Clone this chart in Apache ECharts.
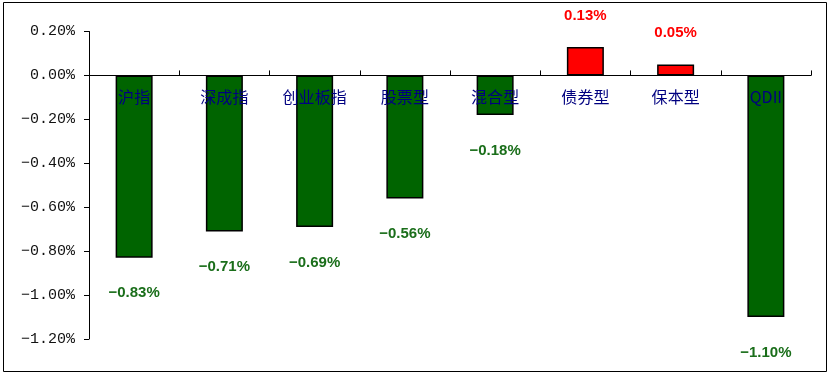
<!DOCTYPE html>
<html>
<head>
<meta charset="utf-8">
<script src="https://cdn.jsdelivr.net/npm/echarts@6/dist/echarts.min.js"></script>
<style>
  html, body { margin: 0; padding: 0; background: #fff; }
  #main { width: 831px; height: 376px; }
</style>
</head>
<body>
<div id="main"></div>
<script>
    // 各类指数 / 基金 周涨跌幅 (%)
    const categories = ['沪指', '深成指', '创业板指', '股票型', '混合型', '债券型', '保本型', 'QDII']
    const values = [-0.83, -0.71, -0.69, -0.56, -0.18, 0.13, 0.05, -1.10]
    const yTicks = [-1.2, -1.0, -0.8, -0.6, -0.4, -0.2, 0, 0.2]

    const upColor = '#ff0000'
    const downColor = '#006400'

    const gridTop = 31.5
    const gridBottom = 37
    const chartHeight = 376

    const chart = echarts.init(document.getElementById('main'))

    const barData = values.map(v => ({
        value: v,
        itemStyle: {color: v >= 0 ? upColor : downColor},
        label: {
            color: v >= 0 ? '#ff0000' : '#1a6e1a',
            distance: v >= 0 ? 24 : 28
        }
    }))

    const fmt = v => (v < 0 ? '\u2212' : '') + Math.abs(v).toFixed(2) + '%'

    // x 轴放在 0 位置
    const yMin = yTicks[0]
    const yMax = yTicks[yTicks.length - 1]
    const plotH = chartHeight - gridTop - gridBottom
    const zeroOffset = -plotH * (0 - yMin) / (yMax - yMin)

    const option = {
        backgroundColor: '#fff',
        animation: false,
        graphic: [{
            type: 'rect',
            shape: {x: 3.5, y: 2.5, width: 823, height: 369},
            style: {fill: 'none', stroke: '#000', lineWidth: 1},
            silent: true
        }],
        grid: {
            left: 89,
            right: 20,
            top: gridTop,
            bottom: gridBottom
        },
        xAxis: {
            type: 'category',
            data: categories,
            position: 'bottom',
            offset: zeroOffset,
            z: 5,
            axisLine: {
                onZero: false,
                lineStyle: {color: '#000', width: 1}
            },
            axisTick: {
                show: true,
                inside: true,
                length: 5,
                lineStyle: {color: '#000'}
            },
            axisLabel: {
                interval: 0,
                margin: 13,
                fontSize: 16,
                color: '#000080',
                fontFamily: 'Noto Sans CJK SC'
            },
            splitLine: {show: false}
        },
        yAxis: {
            type: 'value',
            min: yMin,
            max: yMax,
            interval: 0.2,
            axisLine: {
                show: true,
                lineStyle: {color: '#000', width: 1}
            },
            axisTick: {
                show: true,
                length: 5,
                lineStyle: {color: '#000'}
            },
            axisLabel: {
                margin: 14,
                fontSize: 15,
                color: '#111',
                fontFamily: 'Liberation Mono',
                formatter: v => fmt(v)
            },
            splitLine: {show: false}
        },
        series: [
            {
                type: 'bar',
                barWidth: 37,
                silent: true,
                data: barData,
                itemStyle: {
                    borderColor: '#000',
                    borderWidth: 1.5
                },
                label: {
                    show: true,
                    position: 'outside',
                    fontSize: 15,
                    fontWeight: 'bold',
                    fontFamily: 'Liberation Sans',
                    formatter: p => fmt(p.value)
                }
            }
        ]
    }

    chart.setOption(option)
</script>
</body>
</html>
